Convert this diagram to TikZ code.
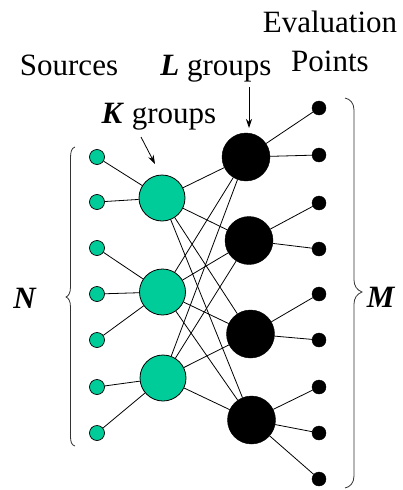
\documentclass[tikz,border=0pt]{standalone}
\usepackage{fontspec}
\setmainfont{Liberation Serif}
\usetikzlibrary{arrows.meta}
\definecolor{srcgreen}{RGB}{0,204,153}
\begin{document}
\begin{tikzpicture}[x=1pt,y=-1pt,
  src/.style={circle,draw=black,line width=0.7pt,fill=srcgreen,minimum size=15pt,inner sep=0pt},
  kgrp/.style={circle,draw=black,line width=0.8pt,fill=srcgreen,minimum size=46pt,inner sep=0pt},
  lgrp/.style={circle,draw=black,fill=black,minimum size=48pt,inner sep=0pt},
  evp/.style={circle,draw=black,fill=black,minimum size=14pt,inner sep=0pt},
  link/.style={line width=0.8pt,black},
  lbl/.style={font=\fontsize{31}{36}\selectfont,inner sep=0pt,anchor=base},
  brace/.style={line width=0.8pt,draw=black!80},
  pointer/.style={line width=0.8pt,-{Stealth[length=9pt,width=6pt]}}]
\useasboundingbox (0,0) rectangle (402,490);
% sources
\foreach \i/\y in {1/157,2/202,3/248,4/294,5/340,6/387,7/433}
  \node[src] (s\i) at (97,\y) {};
% K groups
\node[kgrp] (k1) at (162,198) {};
\node[kgrp] (k2) at (162.5,292) {};
\node[kgrp] (k3) at (163,378) {};
% L groups
\node[lgrp] (l1) at (246,157) {};
\node[lgrp] (l2) at (249,240.5) {};
\node[lgrp] (l3) at (250.5,334) {};
\node[lgrp] (l4) at (251.5,420) {};
% evaluation points
\foreach \i/\y in {1/108,2/155,3/203,4/249,5/294,6/340,7/387,8/433,9/479}
  \node[evp] (e\i) at (319,\y) {};
% links
\draw[link] (s1) -- (k1); \draw[link] (s2) -- (k1);
\draw[link] (s3) -- (k2); \draw[link] (s4) -- (k2); \draw[link] (s5) -- (k2);
\draw[link] (s6) -- (k3); \draw[link] (s7) -- (k3);
\foreach \k in {1,2,3}
  \foreach \l in {1,2,3,4}
    \draw[link] (k\k) -- (l\l);
\draw[link] (l1) -- (e1); \draw[link] (l1) -- (e2);
\draw[link] (l2) -- (e3); \draw[link] (l2) -- (e4);
\draw[link] (l3) -- (e5); \draw[link] (l3) -- (e6);
\draw[link] (l4) -- (e7); \draw[link] (l4) -- (e8); \draw[link] (l4) -- (e9);
% braces
\draw[brace] (75,147) .. controls (71.5,148) and (70.5,152) .. (70.5,158) -- (70.5,287)
  .. controls (70.5,293) and (68.5,296) .. (66,297)
  .. controls (68.5,298) and (70.5,301) .. (70.5,307) -- (70.5,436)
  .. controls (70.5,442) and (71.5,445) .. (75,446);
\draw[brace] (345,98) .. controls (350,99) and (354,103) .. (354,110) -- (354,280)
  .. controls (354,286) and (357,290) .. (362,292)
  .. controls (357,294) and (354,298) .. (354,304) -- (354,476)
  .. controls (354,483) and (350,487) .. (345,488);
% labels
\node[lbl] (tsrc) at (69,75) {Sources};
\node[lbl] (tl) at (216,75) {\textbf{\textit{L}} groups};
\node[lbl] (tev1) at (330,32) {Evaluation};
\node[lbl] (tev2) at (330,71) {Points};
\node[lbl] (tk) at (159,123) {\textbf{\textit{K}} groups};
\node[lbl] (tn) at (25,308) {\textbf{\textit{N}}};
\node[lbl] (tm) at (381,307) {\textbf{\textit{M}}};
% pointers
\coordinate (la) at (249,87);
\coordinate (lt) at (249,128);
\coordinate (ka) at (141,137);
\coordinate (kt) at (155,164);
\draw[pointer] (la) -- (lt);
\draw[pointer] (ka) -- (kt);
\end{tikzpicture}
\end{document}
